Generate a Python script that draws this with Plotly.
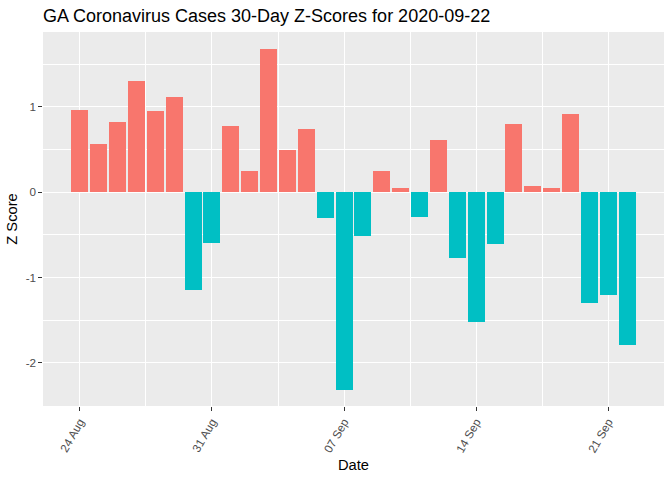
import plotly.graph_objects as go
import pandas as pd

dates = pd.date_range("2020-08-24", "2020-09-22", freq="D")
z_scores = [0.96, 0.56, 0.82, 1.30, 0.95, 1.11, -1.145, -0.595, 0.77, 0.25,
            1.68, 0.49, 0.74, -0.30, -2.317, -0.51, 0.25, 0.05, -0.29, 0.61,
            -0.77, -1.52, -0.605, 0.80, 0.07, 0.05, 0.915, -1.297, -1.204, -1.79]
tick_dates = pd.date_range("2020-08-24", "2020-09-21", freq="7D")
tick_labels = [d.strftime("%d %b") for d in tick_dates]

POS = "#F8766D"
NEG = "#00BFC4"
colors = [POS if v >= 0 else NEG for v in z_scores]

DAY_MS = 86400000
fig = go.Figure()
fig.add_trace(go.Bar(
    x=dates, y=z_scores, width=0.9 * DAY_MS,
    marker=dict(color=colors, line=dict(width=0)),
    hoverinfo="skip", showlegend=False,
))

start = pd.Timestamp("2020-08-24")
x_range = [start - pd.Timedelta(days=1.95), start + pd.Timedelta(days=30.95)]

fig.update_layout(
    width=672, height=480,
    margin=dict(l=43, r=8, t=32, b=74),
    paper_bgcolor="white", plot_bgcolor="#EBEBEB",
    font=dict(family="Liberation Sans, Arial, sans-serif", color="black"),
    title=dict(text="GA Coronavirus Cases 30-Day Z-Scores for 2020-09-22",
               x=43 / 672, xanchor="left", xref="container",
               y=1 - 16 / 480, yanchor="middle", yref="container",
               font=dict(size=18, color="black")),
    bargap=0,
)
fig.update_xaxes(
    range=x_range, tickvals=tick_dates, ticktext=tick_labels,
    tickangle=-60, tickfont=dict(size=11.7, color="#4D4D4D"),
    ticks="outside", ticklen=3.6, tickwidth=1.07, tickcolor="#333333",
    showgrid=True, gridcolor="white", gridwidth=1.07,
    minor=dict(dtick=3.5 * DAY_MS, tick0="2020-08-24", showgrid=True,
               gridcolor="white", gridwidth=0.53, ticks=""),
    zeroline=False, showline=False, automargin=False,
    title=dict(text="Date", font=dict(size=14.7, color="black"), standoff=5),
)
fig.update_yaxes(
    range=[-2.505, 1.876], tickvals=[-2, -1, 0, 1], ticktext=["-2", "-1", "0", "1"],
    tickfont=dict(size=11.7, color="#4D4D4D"),
    ticks="outside", ticklen=3.6, tickwidth=1.07, tickcolor="#333333",
    showgrid=True, gridcolor="white", gridwidth=1.07,
    minor=dict(tickvals=[-2.5, -1.5, -0.5, 0.5, 1.5], showgrid=True,
               gridcolor="white", gridwidth=0.53, ticks=""),
    zeroline=False, showline=False, automargin=False,
    title=dict(text="Z Score", font=dict(size=14.7, color="black"), standoff=4),
)
fig.write_html("out.html", config={"displayModeBar": False},
               post_script="document.body.style.margin='0px';")
